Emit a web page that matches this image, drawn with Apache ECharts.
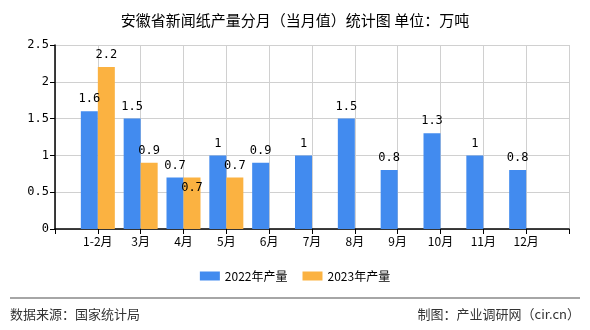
<!DOCTYPE html>
<html><head><meta charset="utf-8">
<script src="https://cdn.jsdelivr.net/npm/echarts@6/dist/echarts.min.js"></script>
<style>html,body{margin:0;padding:0;background:#fff}#c{width:590px;height:330px}</style>
</head><body><div id="c"></div>
<script>
var categories = ['1-2月','3月','4月','5月','6月','7月','8月','9月','10月','11月','12月'];
var values2022 = [1.6,1.5,0.7,1,0.9,1,1.5,0.8,1.3,1,0.8];
var values2023 = [2.2,0.9,0.7,0.7,null,null,null,null,null,null,null];
var yTicks = [0,0.5,1,1.5,2,2.5];
var seriesNames = ['2022年产量','2023年产量'];

var axisData = [''].concat(categories).concat(['']);
function pad(a){ return [null].concat(a).concat([null]); }
var d2023 = pad(values2023).map(function(v,i){
  if (i === 3) return {value:v, label:{offset:[0,22]}};
  return v;
});
var mono = 'DejaVu Sans Mono';
var chart = echarts.init(document.getElementById('c'));
chart.setOption({
  animation:false,
  title:{text:'安徽省新闻纸产量分月（当月值）统计图 单位：万吨',left:'center',top:8,
    textStyle:{fontSize:15,fontWeight:'normal',color:'#000',fontFamily:'Noto Sans CJK SC'}},
  legend:{data:seriesNames,bottom:43,left:'center',itemWidth:20,itemHeight:9,itemGap:15,icon:'rect',
    textStyle:{fontSize:12,color:'#000',fontFamily:'Noto Sans CJK SC'}},
  grid:{left:55,right:21,top:45,bottom:101},
  xAxis:{type:'category',data:axisData,boundaryGap:false,
    axisLine:{lineStyle:{color:'#000',width:1.5}},
    axisTick:{show:true,length:5,lineStyle:{color:'#000'}},
    axisLabel:{color:'#000',fontSize:12,fontFamily:'Noto Sans CJK SC',interval:0,margin:6},
    splitLine:{show:true,lineStyle:{color:'#d0d0d0'}}},
  yAxis:{type:'value',min:yTicks[0],max:yTicks[yTicks.length-1],interval:0.5,
    axisLine:{show:true,lineStyle:{color:'#000',width:1.5}},
    axisTick:{show:true,length:5,lineStyle:{color:'#000'}},
    axisLabel:{color:'#000',fontSize:12,fontFamily:mono,margin:6},
    splitLine:{show:true,lineStyle:{color:'#d0d0d0'}}},
  series:[
    {name:seriesNames[0],type:'bar',data:pad(values2022),barWidth:17,barGap:'0%',
      itemStyle:{color:'#428bef'},
      label:{show:true,position:'top',color:'#000',fontSize:12,fontFamily:mono,distance:6}},
    {name:seriesNames[1],type:'bar',data:d2023,barWidth:17,barGap:'0%',
      itemStyle:{color:'#fbb241'},
      label:{show:true,position:'top',color:'#000',fontSize:12,fontFamily:mono,distance:6}}
  ],
  graphic:[
    {type:'line',shape:{x1:10,y1:298,x2:580,y2:298},style:{stroke:'#888',lineWidth:1.5}},
    {type:'text',left:10,top:308,style:{text:'数据来源：国家统计局',fontSize:13,fill:'#333',fontFamily:'Noto Sans CJK SC'}},
    {type:'text',right:10,top:308,style:{text:'制图：产业调研网（cir.cn）',fontSize:13,fill:'#333',fontFamily:'Noto Sans CJK SC'}}
  ]
});
</script></body></html>
